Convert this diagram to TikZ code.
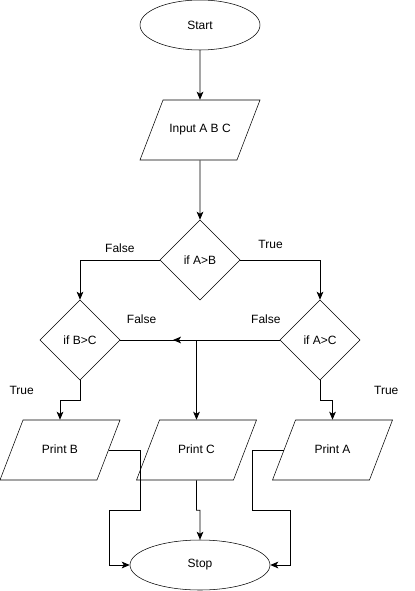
\documentclass[tikz,border=0pt]{standalone}
\usepackage{fontspec}
\setmainfont{Liberation Sans}
\usepackage{tikz}
\usetikzlibrary{positioning,calc}
\usetikzlibrary{shapes.geometric, arrows.meta}
\tikzstyle{startstop} = [ellipse, minimum width=90pt, minimum height=37.5pt, draw=black]
\tikzstyle{io} = [trapezium, trapezium left angle=69, trapezium right angle=111, trapezium stretches body, text height=6.5pt, text depth=2pt, inner ysep=18.25pt, minimum width=90pt, text centered, draw=black]
\tikzstyle{decision} = [diamond, minimum width=60pt, minimum height=60pt, inner sep=0pt, draw=black]
\tikzstyle{arrow} = [semithick,->,>={Stealth[length=6pt, width=5pt, inset=1.5pt]}]
\tikzstyle{output} = [coordinate]

\begin{document}
\begin{tikzpicture}[x=0.75pt, y=-0.75pt, node distance=78.75pt, font=\fontsize{9pt}{11pt}\selectfont]
    \useasboundingbox (0,0) rectangle (414,591);
    % We start by placing the blocks
    \node [startstop] (start) at (200,25) {Start};
    \node [io, below of=start] (input) {Input A B C};
    \node [decision, below of=input, node distance=97.5pt] (ifab) {if A>B};
    \node [decision] (ifbc) at (80,340) {if B>C};
    \node [decision] (ifac) at (320,340) {if A>C};
    \node [io] (printb) at (60,450) {Print B};
    \node [io] (printc) at (196.5,450) {Print C};
    \node [io] (printa) at (332.5,450) {Print A};
    \node [startstop, minimum width=105pt] (stop) at (200,565) {Stop};
    \node [output, name=meet] at (173,340) {};

    % Once the nodes are placed, connecting them is easy.
    \draw [arrow] (start) -- (input);
    \draw [arrow] (input) -- (ifab);
    \draw [arrow] (ifab.west) -| node[above=2pt, pos=0.25] {False} (ifbc.north);
    \draw [arrow] (ifab.east) -| node[above=5pt, pos=0.19] {True} (ifac.north);
    \draw [arrow] (ifbc.east) -| node[above=9pt, pos=0.14] {False} (printc.north);
    \draw [arrow] (ifac.west) -- node[above=9pt, pos=0.13] {False} (meet);
    \draw [arrow] (ifbc.south) -- node[left=31pt] {True} ++(0,20) -| (printb.north);
    \draw [arrow] (ifac.south) -- node[right=37pt] {True} ++(0,20) -| (printa.north);
    % all three prints end in the stop block
    \draw [arrow] (printb.east) -| ++(31.5,60) -| ([xshift=-15pt]stop.west) -- (stop.west);
    \draw [arrow] (printc.south) |- ++(3.5,30) -- (stop.north);
    \draw [arrow] (printa.west) -| ++(-31,60) -| ([xshift=15pt]stop.east) -- (stop.east);
\end{tikzpicture}
\end{document}
